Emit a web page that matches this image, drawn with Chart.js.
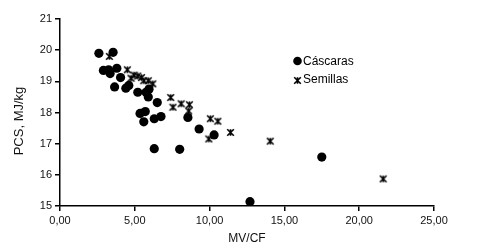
<!DOCTYPE html>
<html>
<head>
<meta charset="utf-8">
<script src="https://cdn.jsdelivr.net/npm/chart.js@4/dist/chart.umd.min.js"></script>
<style>
html,body{margin:0;padding:0;background:#fff;}
#wrap{position:relative;width:480px;height:250px;}
</style>
</head>
<body>
<div id="wrap"><canvas id="c" width="480" height="250"></canvas></div>
<script>
const seriesNames = ["Cáscaras", "Semillas"];
const axisTitles = { x: "MV/CF", y: "PCS, MJ/kg" };

const cascarasX = [2.6, 3.55, 2.9, 3.25, 3.35, 3.8, 4.05, 3.65, 4.4, 4.6, 5.2, 5.75, 5.95, 5.9, 6.5,
                   5.35, 5.7, 5.6, 6.3, 6.75, 8.55, 9.3, 10.3, 6.3, 8.0, 12.7, 17.5];
const cascarasY = [19.9, 19.93, 19.35, 19.37, 19.25, 19.42, 19.12, 18.82, 18.78, 18.87, 18.65, 18.65, 18.75, 18.5, 18.32,
                   17.97, 18.03, 17.7, 17.8, 17.87, 17.84, 17.47, 17.28, 16.84, 16.82, 15.14, 16.57];

const semillasX = [3.3, 4.5, 4.75, 4.95, 5.2, 5.45, 5.6, 5.9, 6.2, 7.4, 7.55, 8.1, 8.65, 8.6, 10.05, 10.55, 11.4, 9.95, 14.05, 21.6];
const semillasY = [19.8, 19.37, 19.1, 19.2, 19.17, 19.12, 19.02, 19.02, 18.92, 18.48, 18.17, 18.28, 18.25, 18.05, 17.8, 17.72, 17.36, 17.15, 17.08, 15.87];

const xTicks = [0, 5, 10, 15, 20, 25];
const yTicks = [15, 16, 17, 18, 19, 20, 21];

function toPoints(xs, ys) { return xs.map((x, i) => ({ x: x, y: ys[i] })); }

const FONT = '"Liberation Sans", Arial, sans-serif';

// Excel-like "star" marker: X plus vertical bar
function makeStar(size) {
  const cv = document.createElement('canvas');
  cv.width = size; cv.height = size;
  const g = cv.getContext('2d');
  g.strokeStyle = '#000';
  g.lineWidth = 1.6;
  const a = 1.2, b = size - 1.2, m = size / 2;
  g.beginPath();
  g.moveTo(a, a); g.lineTo(b, b);
  g.moveTo(b, a); g.lineTo(a, b);
  g.moveTo(m, a); g.lineTo(m, b);
  g.stroke();
  return cv;
}
const starImg = makeStar(9);

const legendPlugin = {
  id: 'fixedLegend',
  afterDraw(chart) {
    const ctx = chart.ctx;
    ctx.save();
    ctx.font = '12px ' + FONT;
    ctx.fillStyle = '#000';
    ctx.textBaseline = 'middle';
    ctx.textAlign = 'left';
    ctx.beginPath();
    ctx.arc(297.5, 61, 4.3, 0, Math.PI * 2);
    ctx.fill();
    ctx.fillText(chart.data.datasets[0].label, 303, 62);
    ctx.drawImage(starImg, 293, 76);
    ctx.fillText(chart.data.datasets[1].label, 303, 80);
    // y axis title (Excel centers it slightly below the plot centre)
    ctx.translate(19, 121);
    ctx.rotate(-Math.PI / 2);
    ctx.textAlign = 'center';
    ctx.fillStyle = '#111';
    ctx.font = '13px ' + FONT;
    ctx.fillText(axisTitles.y, 0, 0);
    ctx.restore();
  }
};

const fmt = v => v.toFixed(2).replace('.', ',');

new Chart(document.getElementById('c'), {
  type: 'scatter',
  data: {
    datasets: [
      {
        label: seriesNames[0],
        data: toPoints(cascarasX, cascarasY),
        pointStyle: 'circle',
        pointRadius: 4.6,
        pointHoverRadius: 4.6,
        backgroundColor: '#000',
        borderColor: '#000',
        borderWidth: 0
      },
      {
        label: seriesNames[1],
        data: toPoints(semillasX, semillasY),
        pointStyle: starImg,
        pointRadius: 4.5,
        backgroundColor: '#000',
        borderColor: '#000'
      }
    ]
  },
  plugins: [legendPlugin],
  options: {
    responsive: false,
    animation: false,
    events: [],
    layout: { padding: { left: 0, right: 46, top: 19, bottom: 0 } },
    plugins: {
      legend: { display: false },
      tooltip: { enabled: false }
    },
    scales: {
      x: {
        type: 'linear',
        min: 0, max: 25,
        afterBuildTicks: s => { s.ticks = xTicks.map(v => ({ value: v })); },
        afterFit: s => { s.height = 44; },
        grid: { drawOnChartArea: false, drawTicks: true, tickLength: 5, color: '#000', lineWidth: 1.5 },
        border: { display: true, color: '#000', width: 1.5 },
        ticks: {
          padding: 3,
          maxRotation: 0,
          color: '#111',
          font: { family: FONT, size: 11 },
          callback: v => fmt(v)
        },
        title: {
          display: true,
          text: axisTitles.x,
          color: '#111',
          padding: { top: 0, bottom: 4 },
          font: { family: FONT, size: 12 }
        }
      },
      y: {
        type: 'linear',
        min: 15, max: 21,
        afterBuildTicks: s => { s.ticks = yTicks.map(v => ({ value: v })); },
        afterFit: s => { s.width = 60; },
        grid: { drawOnChartArea: false, drawTicks: true, tickLength: 5, color: '#000', lineWidth: 1.5 },
        border: { display: true, color: '#000', width: 1.5 },
        ticks: {
          padding: 3,
          color: '#111',
          font: { family: FONT, size: 11 },
          callback: v => String(v)
        },
        title: { display: false }
      }
    }
  }
});
</script>
</body>
</html>
